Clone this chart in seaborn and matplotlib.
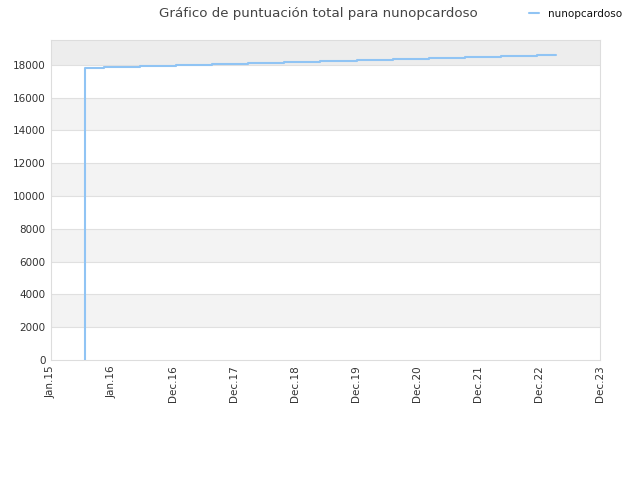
import matplotlib
matplotlib.use('Agg')
import matplotlib.pyplot as plt
import pandas as pd
import seaborn as sns

# x positions on an evenly spaced tick scale (one unit per tick)
tick_labels = ["Jan.15", "Jan.16", "Dec.16", "Dec.17", "Dec.18", "Dec.19",
               "Dec.20", "Dec.21", "Dec.22", "Dec.23"]
step_x = [0.55, 0.55, 0.55, 0.55, 0.55, 0.87, 1.46, 2.05, 2.64, 3.23, 3.82,
          4.41, 5.02, 5.61, 6.20, 6.79, 7.38, 7.97, 8.28]
scores = [0, 15300, 16300, 17300, 17830, 17890, 17950, 18010, 18070, 18135,
          18195, 18255, 18320, 18380, 18440, 18500, 18560, 18620, 18620]

df = pd.DataFrame({"x": step_x, "score": scores, "player": "nunopcardoso"})

sns.set_style("white")
plt.rcParams['font.family'] = ['DejaVu Sans']

fig = plt.figure(figsize=(6.4, 4.8), dpi=100)
ax = fig.add_axes([51 / 640, 120 / 480, 549 / 640, 320 / 480])

ymax = 19520
# alternating background bands
bands = [(2000, 4000), (6000, 8000), (10000, 12000), (14000, 16000)]
for lo, hi in bands:
    ax.axhspan(lo, hi, color="#f3f3f3", zorder=0, lw=0)
ax.axhspan(18000, ymax, color="#ededed", zorder=0, lw=0)
for yv in range(2000, 20000, 2000):
    ax.axhline(yv, color="#e0e0e0", lw=0.8, zorder=1)

sns.lineplot(data=df, x="x", y="score", hue="player", drawstyle="steps-post",
             palette=["#90c4f4"], lw=1.5, ax=ax, estimator=None, sort=False,
             zorder=3)

ax.set_xlim(0, 9)
ax.set_ylim(0, ymax)
ax.set_xticks(range(len(tick_labels)))
ax.set_xticklabels(tick_labels, rotation=90, fontsize=7.5, color="#333333")
ax.set_yticks(range(0, 20000, 2000))
ax.set_yticklabels([str(v) for v in range(0, 20000, 2000)], fontsize=7.5,
                   color="#333333")
ax.tick_params(length=0, pad=4)
ax.set_xlabel("")
ax.set_ylabel("")
for s in ax.spines.values():
    s.set_color("#dddddd")
    s.set_linewidth(0.8)

fig.text(0.497, 0.972, "Gráfico de puntuación total para nunopcardoso",
         ha="center", va="center", fontsize=9.6, color="#444444")

handles, labels = ax.get_legend_handles_labels()
ax.legend_.remove()
fig.legend(handles, labels, loc="center left",
           bbox_to_anchor=(520 / 640, 1 - 14 / 480), frameon=False,
           fontsize=7.5, handlelength=0.9, handletextpad=0.9,
           labelcolor="#111111")

fig.savefig("out.png", dpi=100)
